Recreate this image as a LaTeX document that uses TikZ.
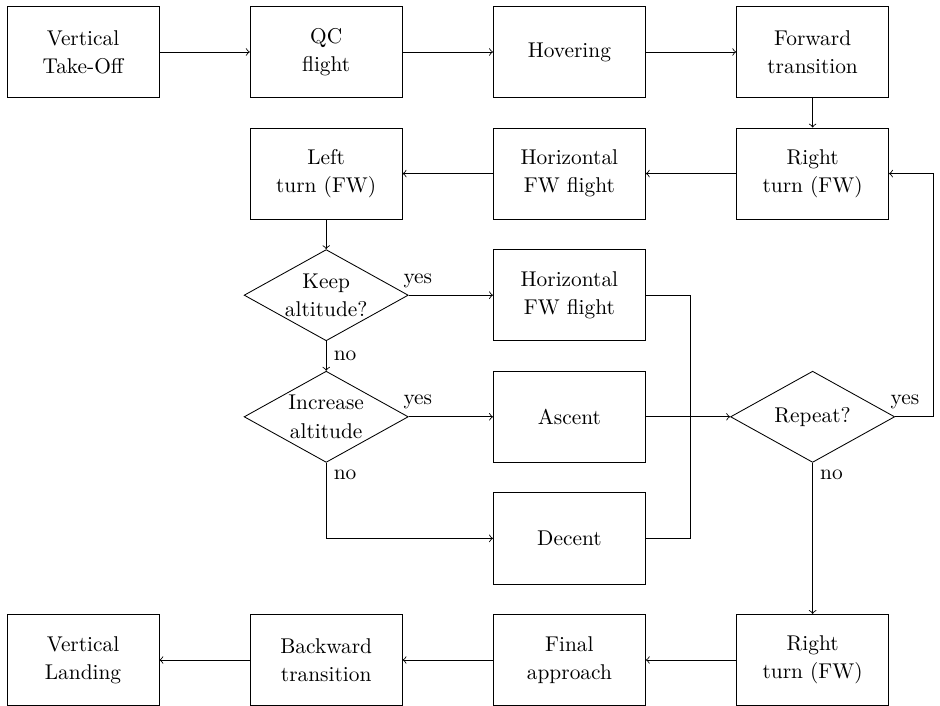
\documentclass[tikz,border=0pt]{standalone}
\usetikzlibrary{shapes.geometric,calc}
\begin{document}
\begin{tikzpicture}[
  x=1cm, y=-1cm,
  txt/.style={font=\fontsize{10}{13.2}\selectfont, align=center},
  box/.style={txt, draw, rectangle, minimum width=2.5cm, minimum height=1.5cm, inner sep=2pt},
  decision/.style={draw, diamond, minimum width=2.7cm, minimum height=1.5cm, inner sep=0pt},
  dtext/.style={txt, inner sep=0pt},
  flow/.style={->},
  lbl/.style={font=\fontsize{10}{12}\selectfont}
]
\useasboundingbox (0,0) rectangle (15.46,11.61);

% columns and rows
\def\ca{1.365}\def\cb{5.365}\def\cc{9.365}\def\cd{13.365}
\def\ra{0.855}\def\rb{2.855}\def\rc{4.855}\def\rd{6.855}\def\re{8.855}\def\rf{10.855}

% first row
\node[box] (vto) at (\ca,\ra) {Vertical\\Take-Off};
\node[box] (qc)  at (\cb,\ra) {QC\\flight};
\node[box] (hov) at (\cc,\ra) {Hovering};
\node[box] (fwd) at (\cd,\ra) {Forward\\transition};

% second row
\node[box] (rt1) at (\cd,\rb) {Right\\turn (FW)};
\node[box] (hf1) at (\cc,\rb) {Horizontal\\FW flight};
\node[box] (lt)  at (\cb,\rb) {Left\\turn (FW)};

% altitude decisions
\node[decision] (keep) at (\cb,\rc) {};
\node[dtext] (keeptxt) at (keep) {Keep\\altitude?};
\node[decision] (inc) at (\cb,\rd) {};
\node[dtext] (inctxt) at (inc) {Increase\\altitude};

\node[box] (hf2) at (\cc,\rc) {Horizontal\\FW flight};
\node[box] (asc) at (\cc,\rd) {Ascent};
\node[box] (dec) at (\cc,\re) {Decent};

% repeat decision
\node[decision] (rep) at (\cd,\rd) {};
\node[dtext] (reptxt) at (rep) {Repeat?};

% last row
\node[box] (rt2) at (\cd,\rf) {Right\\turn (FW)};
\node[box] (fin) at (\cc,\rf) {Final\\approach};
\node[box] (bwd) at (\cb,\rf) {Backward\\transition};
\node[box] (vl)  at (\ca,\rf) {Vertical\\Landing};

% routing points
\coordinate (join) at (11.35,\re);
\coordinate (loop) at (15.35,\rb);

% connectors
\draw[flow] (vto) -- (qc);
\draw[flow] (qc) -- (hov);
\draw[flow] (hov) -- (fwd);
\draw[flow] (fwd) -- (rt1);
\draw[flow] (rt1) -- (hf1);
\draw[flow] (hf1) -- (lt);
\draw[flow] (lt) -- (keep);

\draw[flow] (keep.east) node[lbl, above, xshift=0.15cm] {yes} -- (hf2);
\draw[flow] (keep) -- node[lbl, right] {no} (inc);
\draw[flow] (inc.east) node[lbl, above, xshift=0.15cm] {yes} -- (asc);
\draw[flow] (inc.south) node[lbl, below right] {no} |- (dec.west);

\draw (hf2.east) -| (join) -- (dec.east);
\draw[flow] (asc) -- (rep);

\draw[flow] (rep.east) node[lbl, above, xshift=0.16cm] {yes} -| (loop) -- (rt1.east);
\draw[flow] (rep.south) node[lbl, below right] {no} -- (rt2);

\draw[flow] (rt2) -- (fin);
\draw[flow] (fin) -- (bwd);
\draw[flow] (bwd) -- (vl);
\end{tikzpicture}
\end{document}
